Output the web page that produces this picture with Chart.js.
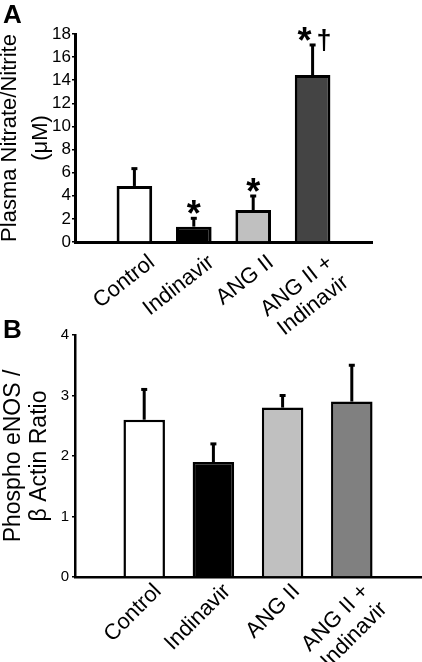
<!DOCTYPE html>
<html><head><meta charset="utf-8">
<script src="https://cdn.jsdelivr.net/npm/chart.js@4.4.1/dist/chart.umd.min.js"></script>
<style>
html,body{margin:0;padding:0;background:#fff;overflow:hidden}
#wrap{position:relative;width:422px;height:662px}
.panel{position:absolute;left:0;width:422px}
#pa{top:0;height:340px}
#pb{top:315px;height:347px}
.lbl{position:absolute;left:3px;font:bold 26px "Liberation Sans",Arial,sans-serif;color:#000;line-height:1}
</style></head><body>
<div id="wrap">
<div class="panel" id="pa"><canvas id="ca"></canvas></div>
<div class="panel" id="pb"><canvas id="cb"></canvas></div>
<div class="lbl" style="top:1px">A</div>
<div class="lbl" style="top:316px">B</div>
</div>
<script>
// ---- data ----
const categories = ['Control', 'Indinavir', 'ANG II', 'ANG II +\nIndinavir'];

const nitrateValues = [4.85, 1.33, 2.77, 14.45];
const nitrateErrors = [1.5, 0.72, 1.21, 2.6];
const nitrateMarks  = ['', '*', '*', '*†'];
const nitrateTicks  = [0, 2, 4, 6, 8, 10, 12, 14, 16, 18];
const nitrateColors = ['#ffffff', '#000000', '#c0c0c0', '#444444'];

const enosValues = [2.6, 1.9, 2.8, 2.9];
const enosErrors = [0.5, 0.3, 0.2, 0.6];
const enosMarks  = ['', '', '', ''];
const enosTicks  = [0, 1, 2, 3, 4];
const enosColors = ['#ffffff', '#000000', '#c0c0c0', '#808080'];

const FONT = '"Liberation Sans", Arial, sans-serif';

const errorBarPlugin = {
  id: 'errorBars',
  afterDatasetsDraw(chart, args, opts) {
    const ctx = chart.ctx;
    const y = chart.scales.y;
    const meta = chart.getDatasetMeta(0);
    const ds = chart.data.datasets[0];
    ctx.save();
    ctx.strokeStyle = '#000';
    ctx.fillStyle = '#000';
    ctx.lineWidth = opts.lineWidth;
    meta.data.forEach((bar, i) => {
      const v = ds.data[i].y;
      const e = opts.errors[i];
      const yBase = y.getPixelForValue(v);
      const yTop = y.getPixelForValue(v + e);
      ctx.beginPath();
      ctx.moveTo(bar.x, yBase);
      ctx.lineTo(bar.x, yTop);
      ctx.stroke();
      ctx.beginPath();
      ctx.moveTo(bar.x - opts.cap, yTop);
      ctx.lineTo(bar.x + opts.cap, yTop);
      ctx.stroke();
      const m = opts.marks[i];
      if (m) {
        ctx.textAlign = 'center';
        ctx.textBaseline = 'alphabetic';
        const hasDagger = m.indexOf('†') >= 0;
        ctx.font = 'bold 36px ' + FONT;
        ctx.fillText('*', bar.x + (hasDagger ? -8 : 0), yTop + 8);
        if (hasDagger) {
          ctx.font = 'bold 27px ' + FONT;
          ctx.fillText('†', bar.x + 11.5, yTop + 4);
        }
      }
    });
    ctx.restore();
  }
};

function makeChart(id, o) {
  return new Chart(document.getElementById(id), {
    type: 'bar',
    data: {
      datasets: [{
        data: categories.map((c, i) => ({ x: i + 1, y: o.values[i] })),
        backgroundColor: o.colors,
        borderColor: '#000',
        borderWidth: o.barBorder,
        borderSkipped: 'bottom',
        barPercentage: 0.6,
        categoryPercentage: 1
      }]
    },
    options: {
      responsive: true,
      maintainAspectRatio: false,
      animation: false,
      events: [],
      layout: { padding: o.padding },
      plugins: {
        legend: { display: false },
        tooltip: { enabled: false },
        errorBars: { errors: o.errors, marks: o.marks, lineWidth: 3, cap: 3 }
      },
      scales: {
        x: {
          type: 'linear',
          min: 0, max: 5,
          offset: false,
          grid: { display: false, drawTicks: false },
          border: { display: true, color: '#000', width: o.axisWidth },
          afterBuildTicks: s => { s.ticks = categories.map((c, i) => ({ value: i + 1 + o.labelShift })); },
          afterFit: s => { s.height = o.xHeight; },
          ticks: {
            autoSkip: false,
            minRotation: o.rotation, maxRotation: o.rotation,
            padding: o.xPad,
            color: '#000',
            font: { family: FONT, size: 22, lineHeight: 1.15 },
            callback: v => categories[Math.round(v - o.labelShift) - 1].split('\n')
          }
        },
        y: {
          min: 0, max: o.ticks[o.ticks.length - 1],
          afterBuildTicks: s => { s.ticks = o.ticks.map(v => ({ value: v })); },
          afterFit: s => { s.width = 75; },
          grid: { display: true, drawOnChartArea: false, drawTicks: true, tickLength: 3, color: '#000', lineWidth: 1.5 },
          border: { display: true, color: '#000', width: o.axisWidth },
          ticks: {
            autoSkip: false,
            padding: o.yPad,
            color: '#000',
            font: { family: FONT, size: o.yTickSize }
          },
          title: {
            display: true,
            text: o.title,
            color: '#000',
            font: { family: FONT, size: o.titleSize, lineHeight: o.titleLH },
            padding: { top: o.titlePad, bottom: 0 }
          }
        }
      }
    },
    plugins: [errorBarPlugin]
  });
}

makeChart('ca', {
  values: nitrateValues, errors: nitrateErrors, marks: nitrateMarks, ticks: nitrateTicks, colors: nitrateColors,
  padding: { top: 34, right: 50, bottom: 0, left: 0 },
  xHeight: 98, rotation: 38, labelShift: 0.3, xPad: 8,
  yPad: 1, yTickSize: 17, axisWidth: 3, barBorder: 3,
  title: ['Plasma Nitrate/Nitrite', '(μM)'], titleSize: 22, titleLH: 1.4, titlePad: -5
});

makeChart('cb', {
  values: enosValues, errors: enosErrors, marks: enosMarks, ticks: enosTicks, colors: enosColors,
  padding: { top: 20, right: 1, bottom: 0, left: 0 },
  xHeight: 85, rotation: 45, labelShift: 0.2, xPad: 2,
  yPad: 3, yTickSize: 15, axisWidth: 2.5, barBorder: 2.5,
  title: ['Phospho eNOS /', 'β Actin Ratio'], titleSize: 23, titleLH: 1.15, titlePad: 0
});
</script>
</body></html>
